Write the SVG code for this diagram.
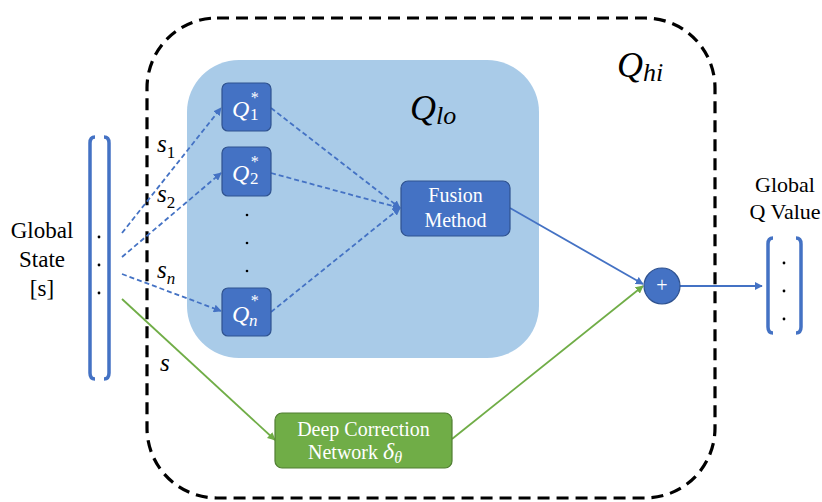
<svg xmlns="http://www.w3.org/2000/svg" width="822" height="502" viewBox="0 0 822 502">
<defs>
<marker id="ab" viewBox="0 0 10 10" refX="9" refY="5" markerWidth="8" markerHeight="8" markerUnits="userSpaceOnUse" orient="auto"><path d="M0,0 L10,5 L0,10 z" fill="#4472c4"/></marker>
<marker id="ag" viewBox="0 0 10 10" refX="9" refY="5" markerWidth="8" markerHeight="8" markerUnits="userSpaceOnUse" orient="auto"><path d="M0,0 L10,5 L0,10 z" fill="#70ad47"/></marker>
</defs>
<style>
.txt{font-family:"Liberation Serif","DejaVu Serif",serif;}
.m{font-family:"Liberation Serif","DejaVu Serif",serif;font-style:italic;}
.up{font-style:normal;}
.qbox{fill:#4472c4;stroke:#2f528f;stroke-width:1.2;}
.dash{stroke:#4472c4;stroke-width:1.8;stroke-dasharray:5,3;fill:none;}
.blue{stroke:#4472c4;stroke-width:1.8;fill:none;}
.green{stroke:#70ad47;stroke-width:1.8;fill:none;}
.dot{fill:#000;}
.br{fill:none;stroke:#4472c4;stroke-width:3.5;}
.ql{font-size:24px;fill:#fff;}
.sup{font-size:16px;fill:#fff;}
.sub{font-size:17px;fill:#fff;}
</style>
<rect width="822" height="502" fill="#fff"/>
<g id="outer">
<rect x="147" y="18" width="568" height="480" rx="70" ry="70" fill="none" stroke="#000" stroke-width="3.2" stroke-dasharray="12,7"/>
<text class="m" x="617" y="77" font-size="36">Q<tspan font-size="26" dy="4">hi</tspan></text>
</g>
<g id="qlo">
<rect x="187" y="60" width="352" height="298" rx="52" ry="52" fill="#a9cbe8"/>
<text class="m" x="410" y="120" font-size="36">Q<tspan font-size="26" dy="4">lo</tspan></text>
</g>
<g id="global-state">
<text class="txt" font-size="23" text-anchor="middle"><tspan x="42" y="238">Global</tspan><tspan x="42" y="267">State</tspan><tspan x="42" y="296">[s]</tspan></text>
<path class="br" d="M95,137 Q90,137 90,143 L90,373 Q90,379 95,379"/>
<path class="br" d="M104,137 Q109,137 109,143 L109,373 Q109,379 104,379"/>
<circle class="dot" cx="99" cy="237" r="1.4"/>
<circle class="dot" cx="99" cy="265" r="1.4"/>
<circle class="dot" cx="99" cy="293" r="1.4"/>
</g>
<g id="connectors">
<line class="dash" x1="122" y1="233" x2="221" y2="108" marker-end="url(#ab)"/>
<line class="dash" x1="122" y1="257" x2="221" y2="173" marker-end="url(#ab)"/>
<line class="dash" x1="122" y1="274" x2="221" y2="311" marker-end="url(#ab)"/>
<line class="dash" x1="271" y1="108" x2="400" y2="208" marker-end="url(#ab)"/>
<line class="dash" x1="271" y1="173" x2="400" y2="208" marker-end="url(#ab)"/>
<line class="dash" x1="271" y1="312" x2="400" y2="208" marker-end="url(#ab)"/>
<line class="blue" x1="510" y1="208" x2="643" y2="284" marker-end="url(#ab)"/>
<line class="green" x1="122" y1="299" x2="275" y2="440" marker-end="url(#ag)"/>
<line class="green" x1="452" y1="439" x2="643" y2="286" marker-end="url(#ag)"/>
<line class="blue" x1="680" y1="286" x2="762" y2="286" marker-end="url(#ab)"/>
<text class="m" font-size="25" x="157" y="152">s<tspan class="up" font-size="17" dy="6">1</tspan></text>
<text class="m" font-size="25" x="157" y="202">s<tspan class="up" font-size="17" dy="6">2</tspan></text>
<text class="m" font-size="25" x="157" y="278">s<tspan font-size="17" dy="6">n</tspan></text>
<text class="m" font-size="25" x="160" y="371">s</text>
</g>
<g id="q1">
<rect class="qbox" x="222" y="83" width="49" height="48" rx="6"/>
<text class="m ql" x="232" y="117">Q</text>
<text class="m sup" x="250" y="103">*</text>
<text class="txt sub" x="250" y="120">1</text>
</g>
<g id="q2">
<rect class="qbox" x="222" y="147" width="49" height="49" rx="6"/>
<text class="m ql" x="232" y="181">Q</text>
<text class="m sup" x="250" y="167">*</text>
<text class="txt sub" x="250" y="184">2</text>
</g>
<g id="dots">
<circle class="dot" cx="247" cy="215" r="1.3"/>
<circle class="dot" cx="247" cy="243" r="1.3"/>
<circle class="dot" cx="247" cy="271" r="1.3"/>
</g>
<g id="qn">
<rect class="qbox" x="222" y="288" width="49" height="48" rx="6"/>
<text class="m ql" x="232" y="322">Q</text>
<text class="m sup" x="250" y="306">*</text>
<text class="m sub" x="249" y="326">n</text>
</g>
<g id="fusion">
<rect class="qbox" x="401" y="181" width="109" height="55" rx="7"/>
<text class="txt" fill="#fff" font-size="20" text-anchor="middle"><tspan x="455.5" y="202">Fusion</tspan><tspan x="455.5" y="227">Method</tspan></text>
</g>
<g id="deep-correction">
<rect x="275" y="413" width="177" height="55" rx="7" fill="#70ad47" stroke="#507e32" stroke-width="1.2"/>
<text class="txt" fill="#fff" font-size="20" text-anchor="middle"><tspan x="363.5" y="436">Deep Correction</tspan></text>
<text class="txt" fill="#fff" font-size="20" x="308" y="459">Network <tspan class="m" font-size="24">δ</tspan><tspan class="m" font-size="16" dy="4">θ</tspan></text>
</g>
<g id="plus">
<circle cx="662" cy="286" r="18" fill="#4472c4" stroke="#2f528f" stroke-width="1.2"/>
<text class="txt" fill="#fff" font-size="20" text-anchor="middle" x="662" y="292">+</text>
</g>
<g id="global-q">
<text class="txt" font-size="22" text-anchor="middle"><tspan x="785" y="192">Global</tspan><tspan x="785" y="219">Q Value</tspan></text>
<path class="br" d="M773,238 Q768,238 768,244 L768,327 Q768,333 773,333"/>
<path class="br" d="M796,238 Q801,238 801,244 L801,327 Q801,333 796,333"/>
<circle class="dot" cx="784" cy="263" r="1.4"/>
<circle class="dot" cx="784" cy="291" r="1.4"/>
<circle class="dot" cx="784" cy="319" r="1.4"/>
</g>
</svg>
